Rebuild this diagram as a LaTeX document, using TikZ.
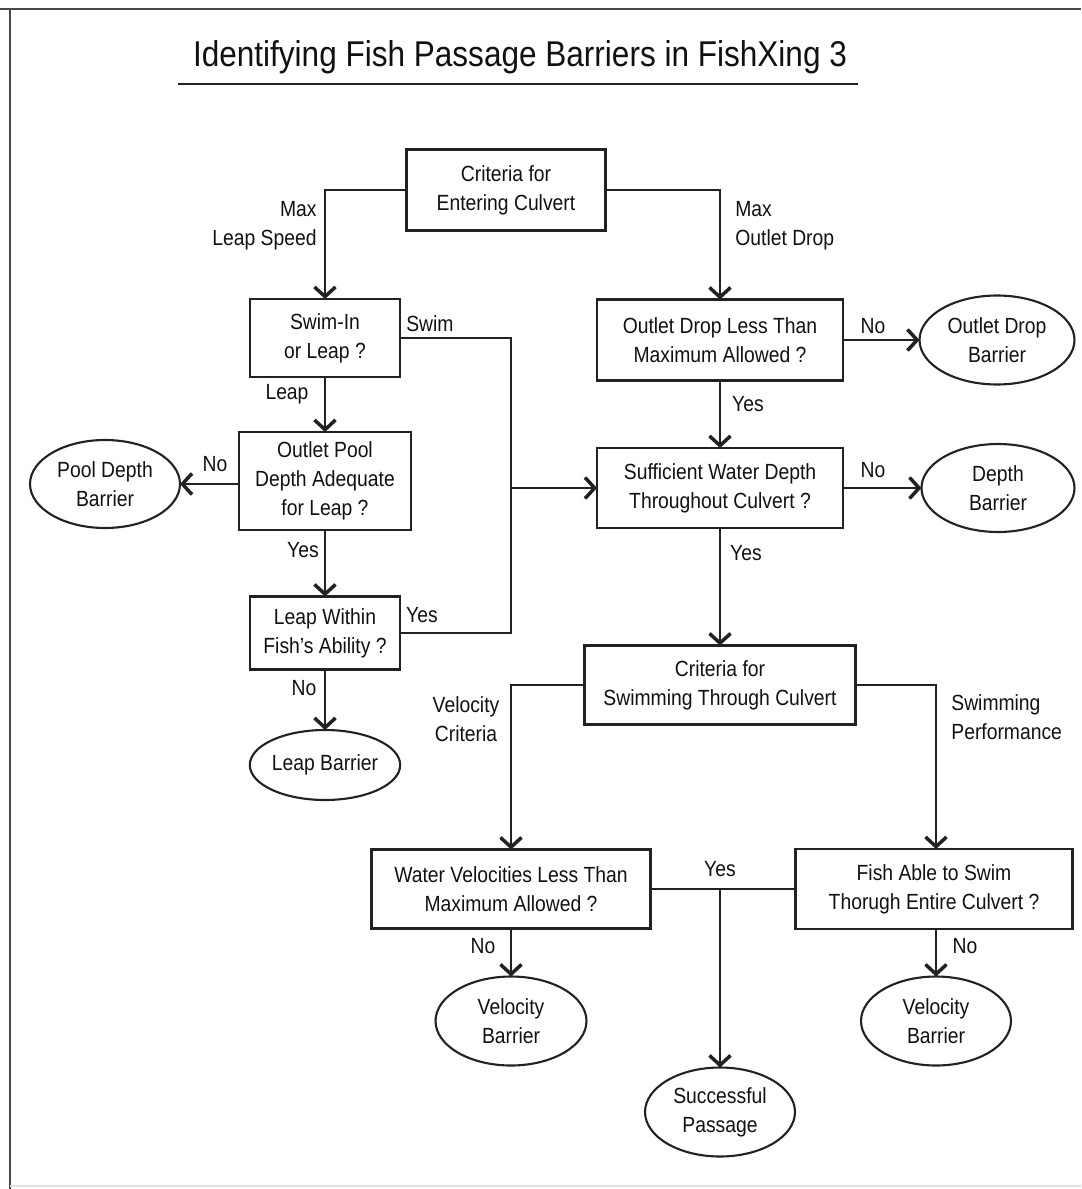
\documentclass[tikz,border=0pt]{standalone}
\usepackage{fontspec}
\setmainfont{Liberation Sans}[FakeStretch=0.88]
\usepackage{tikz}
\usetikzlibrary{positioning,arrows.meta,calc,shapes.geometric}
\definecolor{cInk}{HTML}{111111}
\definecolor{cLine}{HTML}{222222}
\definecolor{cFrame}{HTML}{4A4A4A}

\begin{document}
\begin{tikzpicture}[x=0.02cm, y=-0.02cm,
    font=\fontsize{12.5}{16.4}\selectfont, text=cInk,
    qbox/.style={draw=cLine, line width=1.2pt, rectangle, align=center,
      inner sep=0pt, outer sep=0pt},
    endbox/.style={draw=cLine, line width=1.2pt, ellipse, align=center,
      inner sep=0pt, outer sep=0pt},
    flow/.style={draw=cLine, line width=1.2pt},
    flowto/.style={flow, -{Straight Barb[length=5.5pt,width=12pt,line width=2pt]}},
    tag/.style={inner sep=0pt, align=center}]
    \useasboundingbox (0,0) rectangle (1081,1189);

    % --- frame + title -----------------------------------------------
    \draw[cFrame, line width=1.6pt] (0,9) -- (1081,9);
    \draw[cFrame, line width=1.6pt] (10,9) -- (10,1189);
    \draw[black!12, line width=0.8pt] (10,1186) -- (1081,1186);
    \node[tag, font=\fontsize{20.4}{24}\selectfont] (title) at (520,57)
      {Identifying Fish Passage Barriers in FishXing 3};
    \draw[cLine, line width=1.4pt] (178,84) -- (858,84);

    % --- decision boxes ----------------------------------------------
    \node[qbox, minimum width=3.98cm, minimum height=1.62cm] (entry) at (506,190)
      {Criteria for\\Entering Culvert};
    \node[qbox, minimum width=3.00cm, minimum height=1.56cm] (swim) at (325,338)
      {Swim-In\\or Leap ?};
    \node[qbox, minimum width=3.44cm, minimum height=1.96cm] (pool) at (325,481)
      {Outlet Pool\\Depth Adequate\\for Leap ?};
    \node[qbox, minimum width=3.00cm, minimum height=1.46cm] (leapw) at (325,633)
      {Leap Within\\Fish's Ability ?};
    \node[qbox, minimum width=4.92cm, minimum height=1.62cm] (drop) at (720,340)
      {Outlet Drop Less Than\\Maximum Allowed ?};
    \node[qbox, minimum width=4.92cm, minimum height=1.60cm] (depth) at (720,488)
      {Sufficient Water Depth\\Throughout Culvert ?};
    \node[qbox, minimum width=5.42cm, minimum height=1.58cm] (swimc) at (720,685)
      {Criteria for\\Swimming Through Culvert};
    \node[qbox, minimum width=5.58cm, minimum height=1.58cm] (vel) at (511,889)
      {Water Velocities Less Than\\Maximum Allowed ?};
    \node[qbox, minimum width=5.54cm, minimum height=1.60cm] (able) at (934,889)
      {Fish Able to Swim\\Thorugh Entire Culvert ?};

    % --- outcomes ----------------------------------------------------
    \node[endbox, minimum width=3.00cm, minimum height=1.76cm] (poolb) at (105,484)
      {Pool Depth\\Barrier};
    \node[endbox, minimum width=2.96cm, minimum height=1.40cm] (leapb) at (325,765)
      {Leap Barrier};
    \node[endbox, minimum width=3.10cm, minimum height=1.78cm] (dropb) at (997,340)
      {Outlet Drop\\Barrier};
    \node[endbox, minimum width=3.06cm, minimum height=1.76cm] (depthb) at (998,488)
      {Depth\\Barrier};
    \node[endbox, minimum width=3.02cm, minimum height=1.78cm] (velb) at (511,1021)
      {Velocity\\Barrier};
    \node[endbox, minimum width=3.00cm, minimum height=1.78cm] (ableb) at (936,1021)
      {Velocity\\Barrier};
    \node[endbox, minimum width=3.00cm, minimum height=1.78cm] (pass) at (720,1112)
      {Successful\\Passage};

    % --- connectors --------------------------------------------------
    \coordinate (jn) at (511,488);
    \coordinate (yesj) at (vel.east -| pass.north);
    \draw[flowto] (entry.west) -| (swim.north);
    \draw[flowto] (entry.east) -| (drop.north);
    \draw[flowto] (swim) -- (pool);
    \draw[flowto] (pool.west |- poolb.east) -- (poolb.east);
    \draw[flowto] (pool) -- (leapw);
    \draw[flowto] (leapw) -- (leapb);
    \draw[flow] (swim.east) -| (jn);
    \draw[flow] (leapw.east) -| (jn);
    \draw[flowto] (jn) -- (depth.west);
    \draw[flowto] (drop) -- (dropb);
    \draw[flowto] (drop) -- (depth);
    \draw[flowto] (depth) -- (depthb);
    \draw[flowto] (depth) -- (swimc);
    \draw[flowto] (swimc.west) -| (vel.north);
    \draw[flowto] (swimc.east) -| (ableb.north |- able.north);
    \draw[flowto] (vel) -- (velb);
    \draw[flowto] (able.south -| ableb.north) -- (ableb.north);
    \draw[flow] (vel.east) -- (able.west);
    \draw[flowto] (yesj) -- (pass.north);

    % --- branch labels -----------------------------------------------
    \node[tag, align=right, anchor=east] (lMaxL) at (317,226) {Max\\Leap Speed};
    \node[tag, align=left, anchor=west] (lMaxD) at (735,226) {Max\\Outlet Drop};
    \node[tag, anchor=west] (lSwim) at (406,324) {Swim};
    \node[tag] (lLeap) at (287,394) {Leap};
    \node[tag] (lPoolNo) at (215,464) {No};
    \node[tag] (lPoolYes) at (303,550) {Yes};
    \node[tag] (lLeapYes) at (422,615) {Yes};
    \node[tag] (lLeapNo) at (304,688) {No};
    \node[tag] (lDropNo) at (873,326) {No};
    \node[tag] (lDropYes) at (748,404) {Yes};
    \node[tag] (lDepthNo) at (873,470) {No};
    \node[tag] (lDepthYes) at (746,553) {Yes};
    \node[tag] (lVelC) at (466,719) {Velocity\\Criteria};
    \node[tag, align=left, anchor=west] (lPerf) at (951,717) {Swimming\\Performance};
    \node[tag] (lPassYes) at (720,869) {Yes};
    \node[tag] (lVelNo) at (483,946) {No};
    \node[tag] (lAbleNo) at (965,946) {No};
\end{tikzpicture}
\end{document}
